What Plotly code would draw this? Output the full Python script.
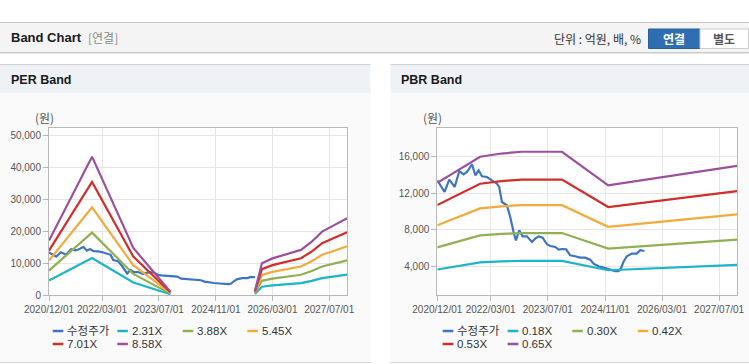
import plotly.graph_objects as go

# ---------------- data ----------------
price_dates = ["2020-12-01", "2021-02-01", "2021-03-13", "2021-04-28", "2021-06-07", "2021-07-13",
               "2021-08-11", "2021-09-23", "2021-10-21", "2021-11-18", "2021-12-17", "2022-01-28",
               "2022-03-12", "2022-04-23", "2022-05-13", "2022-06-05", "2022-07-17", "2022-08-15",
               "2022-09-12", "2022-10-02", "2022-10-31", "2022-11-28", "2023-01-04", "2023-02-16",
               "2023-03-16", "2023-04-14", "2023-05-18", "2023-06-24", "2023-07-22", "2023-09-03",
               "2023-10-01", "2023-10-30", "2023-12-05", "2024-01-08", "2024-02-20", "2024-04-02",
               "2024-05-15", "2024-06-27", "2024-07-25", "2024-09-06", "2024-10-18", "2024-11-30",
               "2024-12-28", "2025-01-26", "2025-02-23", "2025-03-15", "2025-04-06", "2025-05-05",
               "2025-06-17", "2025-07-29", "2025-08-27", "2025-09-18", "2025-10-02"]
price_values = [13450, 12160, 13510, 12710, 14460, 14100, 14350, 15200, 13990, 14540, 13880, 13800,
                13440, 13070, 12710, 11060, 10700, 9420, 7770, 6850, 7950, 7290, 7290, 6670,
                7030, 7290, 7150, 6420, 6230, 6120, 5830, 5900, 5870, 5210, 5100, 4950,
                4950, 4730, 4290, 4000, 3860, 3710, 3640, 3480, 3480, 3750, 4470, 5100,
                5390, 5390, 5760, 5680, 5680]

# PER band (gap = no earnings period)
per_dates = ["2020-12-01", "2021-12-05", "2022-11-24", "2023-10-08", "2024-11-01",
             "2025-10-02", "2025-12-01", "2026-03-01", "2026-09-01", "2026-11-01",
             "2027-02-01", "2027-05-01", "2027-08-01", "2027-12-01"]
per_labels = ["2.31X", "3.88X", "5.45X", "7.01X", "8.58X"]
per_231 = [4620, 11712, 3996, 312, None, 393, 2703, 3119, 3696, 3835, 4528, 5382, 5867, 6514]
per_388 = [7760, 19672, 6712, 524, None, 660, 4540, 5238, 6208, 6441, 7605, 9040, 9855, 10942]
per_545 = [10900, 27632, 9429, 736, None, 927, 6377, 7358, 8720, 9047, 10682, 12699, 13843, 15369]
per_701 = [14020, 35541, 12127, 946, None, 1192, 8202, 9464, 11216, 11637, 13740, 16333, 17805, 19768]
per_858 = [17160, 43501, 14843, 1158, None, 1459, 10039, 11583, 13728, 14243, 16817, 19991, 21793, 24196]

# PBR band
pbr_dates = ["2020-12-01", "2021-12-01", "2022-06-01", "2022-11-20", "2023-10-30",
             "2024-11-27", "2027-12-01"]
pbr_labels = ["0.18X", "0.30X", "0.42X", "0.53X", "0.65X"]
pbr_018 = [3645, 4437, 4536, 4590, 4590, 3569, 4162]
pbr_030 = [6075, 7395, 7560, 7650, 7650, 5949, 6936]
pbr_042 = [8505, 10353, 10584, 10710, 10710, 8329, 9710]
pbr_053 = [10733, 13065, 13356, 13515, 13515, 10510, 12254]
pbr_065 = [13163, 16023, 16380, 16575, 16575, 12890, 15028]

tick_dates = ["2020-12-01", "2022-03-01", "2023-07-01", "2024-11-01", "2026-03-01", "2027-07-01"]
tick_text = ["2020/12/01", "2022/03/01", "2023/07/01", "2024/11/01", "2026/03/01", "2027/07/01"]
per_yticks = [0, 10000, 20000, 30000, 40000, 50000]
pbr_yticks = [4000, 8000, 12000, 16000]
price_label = "수정주가"

# ---------------- style ----------------
W, H = 749, 364
def px(x): return x / W
def py(y): return 1 - y / H

C_PRICE = "#3d74c6"
BAND_COLORS = ["#1db4c7", "#8fb152", "#f2aa3c", "#d02d2b", "#9a509d"]
SANS = "Liberation Sans, Arial, sans-serif"
KR = "Noto Sans CJK KR, sans-serif"
MIX = "Liberation Sans, Arial, Noto Sans CJK KR, sans-serif"
LW = 2.2

fig = go.Figure()

fig.add_trace(go.Scatter(x=price_dates, y=price_values, mode="lines", line=dict(color=C_PRICE, width=LW),
                         xaxis="x", yaxis="y", name=price_label, showlegend=False))
for vals, col, lab in zip([per_231, per_388, per_545, per_701, per_858], BAND_COLORS, per_labels):
    fig.add_trace(go.Scatter(x=per_dates, y=vals, mode="lines", line=dict(color=col, width=LW),
                             connectgaps=False, xaxis="x", yaxis="y", name=lab, showlegend=False))

fig.add_trace(go.Scatter(x=price_dates, y=price_values, mode="lines", line=dict(color=C_PRICE, width=LW),
                         xaxis="x2", yaxis="y2", name=price_label, showlegend=False))
for vals, col, lab in zip([pbr_018, pbr_030, pbr_042, pbr_053, pbr_065], BAND_COLORS, pbr_labels):
    fig.add_trace(go.Scatter(x=pbr_dates, y=vals, mode="lines", line=dict(color=col, width=LW),
                             xaxis="x2", yaxis="y2", name=lab, showlegend=False))

axis_common = dict(showgrid=True, gridcolor="#e6e6e6", gridwidth=1, showline=True, linecolor="#b8b8b8",
                   linewidth=1, mirror=True, ticks="outside", ticklen=5, tickcolor="#b8b8b8",
                   tickangle=0, tickfont=dict(family=SANS, size=10, color="#555555"),
                   zeroline=False, fixedrange=True, automargin=False)
xr = ["2020-12-01", "2027-12-03"]
ydom = [py(295.3), py(128.3)]

layout_axes = dict(
    xaxis=dict(domain=[px(49), px(347.3)], anchor="y", type="date", range=xr,
               tickvals=tick_dates, ticktext=tick_text, **axis_common),
    yaxis=dict(domain=ydom, anchor="x", range=[0, 52400], tickvals=per_yticks, tickformat=",", **axis_common),
    xaxis2=dict(domain=[px(437.3), px(737.3)], anchor="y2", type="date", range=xr,
                tickvals=tick_dates, ticktext=tick_text, **axis_common),
    yaxis2=dict(domain=ydom, anchor="x2", range=[817, 19150], tickvals=pbr_yticks, tickformat=",", **axis_common),
)

shapes = []
annotations = []

def rect(x0, y0, x1, y1, fill, line=None, lw=0):
    shapes.append(dict(type="rect", xref="paper", yref="paper", x0=px(x0), x1=px(x1), y0=py(y1), y1=py(y0),
                       fillcolor=fill, line=dict(color=line or fill, width=lw), layer="below"))

def hline(x0, x1, y, color, w=1):
    shapes.append(dict(type="line", xref="paper", yref="paper", x0=px(x0), x1=px(x1), y0=py(y), y1=py(y),
                       line=dict(color=color, width=w)))

def text(x, y, s, size=12, color="#333", family=KR, anchor="left", bold=False):
    if bold:
        s = "<b>" + s + "</b>"
    annotations.append(dict(xref="paper", yref="paper", x=px(x), y=py(y), text=s, showarrow=False,
                            xanchor=anchor, yanchor="middle", font=dict(size=size, color=color, family=family)))

# main header
rect(0, 22.5, 749, 52, "#f4f4f4")
hline(0, 749, 22.5, "#c4c4c4", 1)
hline(0, 749, 52.5, "#c9c9c9", 1)
hline(0, 749, 53.5, "#e4e4e4", 1)
text(9, 38, "Band Chart", size=13, color="#1a1a1a", family=SANS, bold=True)
text(86, 38, "[연결]", size=12, color="#8a8a8a")
text(643, 38.5, "단위 : 억원, 배, %", size=12, color="#333333", anchor="right")
# buttons
shapes.append(dict(type="rect", xref="paper", yref="paper", x0=px(648.5), x1=px(700), y0=py(48.5), y1=py(29),
                   fillcolor="#2f6eb1", line=dict(color="#2a5f9a", width=1)))
shapes.append(dict(type="rect", xref="paper", yref="paper", x0=px(700), x1=px(748.5), y0=py(48.5), y1=py(29),
                   fillcolor="#ffffff", line=dict(color="#cccccc", width=1)))
text(674, 39, "연결", size=12, color="#ffffff", anchor="center", bold=True)
text(724, 39, "별도", size=12, color="#555555", anchor="center", bold=True)

# panels
for x0, x1, title in [(0, 370.5, "PER Band"), (390.5, 749, "PBR Band")]:
    rect(x0, 93, x1, 362, "#fafafa")
    rect(x0, 64.5, x1, 93, "#eef1f6")
    hline(x0, x1, 64.5, "#d3d3d3", 1)
    hline(x0, x1, 362.5, "#d3d3d3", 1)
    text(x0 + 9, 80, title, size=12.5, color="#1a1a1a", family=SANS, bold=True)
# plot areas white
rect(49, 128.3, 347.3, 295.3, "#ffffff")
rect(437.3, 128.3, 737.3, 295.3, "#ffffff")

text(44, 118, "(원)", size=12, color="#555555", anchor="center", family=KR)
text(432, 118, "(원)", size=12, color="#555555", anchor="center", family=KR)

# manual legends
def legend(cols, rows, items):
    for i, (lab, col) in enumerate(items):
        x = cols[i % 4]
        y = rows[i // 4]
        hline(x, x + 10.6, y, col, 2.5)
        text(x + 12.5, y, lab, size=11.5, color="#333333", family=MIX)

legend([52.7, 117.3, 182.7, 247.3], [331, 344],
       [(price_label, C_PRICE)] + list(zip(per_labels, BAND_COLORS)))
legend([442.7, 507.7, 572.3, 637.7], [331, 344],
       [(price_label, C_PRICE)] + list(zip(pbr_labels, BAND_COLORS)))

fig.update_layout(
    width=W, height=H, margin=dict(l=0, r=0, t=0, b=0, pad=0, autoexpand=False),
    paper_bgcolor="#ffffff", plot_bgcolor="#ffffff",
    showlegend=False, shapes=shapes, annotations=annotations,
    **layout_axes,
)

fig.write_html("out.html", config={"displayModeBar": False},
               post_script="document.body.style.margin='0';document.body.style.overflow='hidden';")
